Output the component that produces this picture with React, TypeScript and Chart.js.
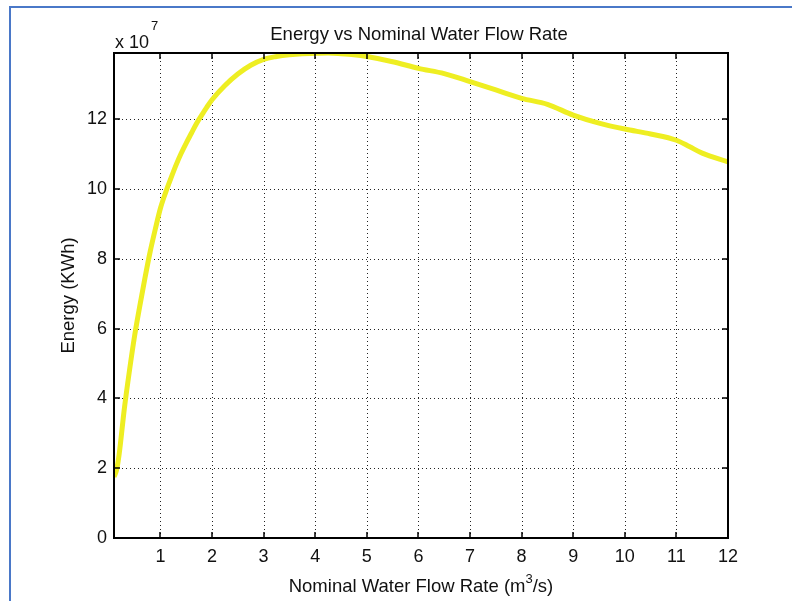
import { useEffect, useRef } from 'react';
import { Chart, registerables } from 'chart.js';

Chart.register(...registerables);

// Nominal water flow rate (m^3/s)
const flowRate = [
  0.1, 0.15, 0.2, 0.3, 0.4, 0.5, 0.6, 0.7, 0.8, 0.9, 1.0, 1.1, 1.2, 1.3, 1.4, 1.5, 1.6, 1.7, 1.8, 1.9,
  2.0, 2.25, 2.5, 2.75, 3.0, 3.25, 3.5, 3.75, 4.0, 4.25, 4.5, 4.75, 5.0, 5.5, 6.0, 6.5,
  7.0, 7.5, 8.0, 8.5, 9.0, 9.5, 10.0, 10.5, 11.0, 11.25, 11.5, 12.0,
];
// Energy (x 10^7 KWh)
const energy = [
  1.75, 1.95, 2.4, 3.7, 4.8, 5.8, 6.65, 7.45, 8.2, 8.85, 9.45, 9.9, 10.3, 10.68, 11.02, 11.32, 11.6, 11.88, 12.12, 12.35,
  12.56, 12.97, 13.3, 13.55, 13.72, 13.8, 13.85, 13.88, 13.89, 13.9, 13.88, 13.85, 13.8, 13.65, 13.46, 13.31,
  13.08, 12.84, 12.6, 12.43, 12.12, 11.89, 11.72, 11.58, 11.4, 11.22, 11.03, 10.78,
];
const xTickValues = [1, 2, 3, 4, 5, 6, 7, 8, 9, 10, 11, 12];
const yTickValues = [0, 2, 4, 6, 8, 10, 12];
const xMin = 0.1;
const xMax = 12;
const yMin = 0;
const yMax = 13.9;

const chartTitle = 'Energy vs Nominal Water Flow Rate';
const yAxisLabel = 'Energy (KWh)';
const xAxisLabelBefore = 'Nominal Water Flow Rate (m';
const xAxisLabelSup = '3';
const xAxisLabelAfter = '/s)';
const exponentBase = 'x 10';
const exponentSup = '7';

const FONT = '"Liberation Sans", Arial, Helvetica, sans-serif';
const TEXT = '#111';
const LABEL_SIZE = 18.5;
const TICK_SIZE = 18;

const matlabAxes = {
  id: 'matlabAxes',
  beforeDatasetsDraw(chart: any) {
    const { ctx, chartArea: a, scales } = chart;
    const x = scales.x;
    const y = scales.y;
    ctx.save();
    ctx.strokeStyle = '#222';
    ctx.lineWidth = 1;
    ctx.setLineDash([1, 3]);
    for (const v of xTickValues) {
      const px = Math.round(x.getPixelForValue(v)) + 0.5;
      ctx.beginPath();
      ctx.moveTo(px, a.top);
      ctx.lineTo(px, a.bottom);
      ctx.stroke();
    }
    for (const v of yTickValues) {
      const py = Math.round(y.getPixelForValue(v)) + 0.5;
      ctx.beginPath();
      ctx.moveTo(a.left, py);
      ctx.lineTo(a.right, py);
      ctx.stroke();
    }
    ctx.restore();
  },
  afterDraw(chart: any) {
    const { ctx, chartArea: a, scales } = chart;
    const x = scales.x;
    const y = scales.y;
    ctx.save();
    // axes box
    ctx.strokeStyle = '#000';
    ctx.lineWidth = 2;
    ctx.setLineDash([]);
    ctx.strokeRect(Math.round(a.left), Math.round(a.top), Math.round(a.right - a.left), Math.round(a.bottom - a.top));
    // inward ticks
    const tl = 6;
    ctx.lineWidth = 1.5;
    for (const v of xTickValues) {
      const px = Math.round(x.getPixelForValue(v));
      ctx.beginPath();
      ctx.moveTo(px, a.bottom);
      ctx.lineTo(px, a.bottom - tl);
      ctx.moveTo(px, a.top);
      ctx.lineTo(px, a.top + tl);
      ctx.stroke();
    }
    for (const v of yTickValues) {
      const py = Math.round(y.getPixelForValue(v));
      ctx.beginPath();
      ctx.moveTo(a.left, py);
      ctx.lineTo(a.left + tl, py);
      ctx.moveTo(a.right, py);
      ctx.lineTo(a.right - tl, py);
      ctx.stroke();
    }
    // title
    ctx.fillStyle = TEXT;
    ctx.font = `${LABEL_SIZE}px ${FONT}`;
    ctx.textAlign = 'center';
    ctx.textBaseline = 'alphabetic';
    ctx.fillText(chartTitle, (a.left + a.right) / 2 - 2, 40);
    // exponent
    ctx.textAlign = 'left';
    ctx.font = `${TICK_SIZE}px ${FONT}`;
    ctx.fillText(exponentBase, a.left + 1, 48);
    const ew = ctx.measureText(exponentBase).width;
    ctx.font = `13px ${FONT}`;
    ctx.fillText(exponentSup, a.left + 1 + ew + 2, 30);
    // x label
    ctx.font = `${LABEL_SIZE}px ${FONT}`;
    const w1 = ctx.measureText(xAxisLabelBefore).width;
    const w3 = ctx.measureText(xAxisLabelAfter).width;
    ctx.font = `13px ${FONT}`;
    const w2 = ctx.measureText(xAxisLabelSup).width;
    const total = w1 + w2 + w3;
    let sx = (a.left + a.right) / 2 - total / 2;
    ctx.font = `${LABEL_SIZE}px ${FONT}`;
    ctx.fillText(xAxisLabelBefore, sx, 592);
    sx += w1;
    ctx.font = `13px ${FONT}`;
    ctx.fillText(xAxisLabelSup, sx, 583);
    sx += w2;
    ctx.font = `${LABEL_SIZE}px ${FONT}`;
    ctx.fillText(xAxisLabelAfter, sx, 592);
    // y label
    ctx.save();
    ctx.translate(74, (a.top + a.bottom) / 2);
    ctx.rotate(-Math.PI / 2);
    ctx.textAlign = 'center';
    ctx.fillText(yAxisLabel, 0, 0);
    ctx.restore();
    // blue frame (partial border of the figure)
    ctx.fillStyle = '#4a78c8';
    ctx.fillRect(9, 6, 792 - 9, 2);
    ctx.fillRect(9, 6, 2, 601 - 6);
    ctx.restore();
  },
};

export default function App() {
  const canvasRef = useRef<HTMLCanvasElement | null>(null);

  useEffect(() => {
    const canvas = canvasRef.current;
    if (!canvas) return;
    const points = flowRate.map((fx, i) => ({ x: fx, y: energy[i] }));
    const chart = new Chart(canvas, {
      type: 'line',
      data: {
        datasets: [
          {
            data: points,
            borderColor: '#eeee22',
            borderWidth: 5,
            pointRadius: 0,
            fill: false,
            cubicInterpolationMode: 'monotone',
          },
        ],
      },
      options: {
        animation: false,
        responsive: false,
        maintainAspectRatio: false,
        devicePixelRatio: 1,
        layout: { padding: { left: 0, right: 64, top: 53, bottom: 0 } },
        plugins: {
          legend: { display: false },
          tooltip: { enabled: false },
          title: { display: false },
        },
        scales: {
          x: {
            type: 'linear',
            min: xMin,
            max: xMax,
            afterBuildTicks: (s: any) => {
              s.ticks = xTickValues.map((v) => ({ value: v }));
            },
            afterFit: (s: any) => {
              s.height = 63;
            },
            grid: { display: false, drawTicks: false },
            border: { display: false },
            ticks: {
              autoSkip: false,
              maxRotation: 0,
              padding: 8,
              color: TEXT,
              font: { family: FONT, size: TICK_SIZE },
              callback: (v: any) => String(v),
            },
          },
          y: {
            type: 'linear',
            min: yMin,
            max: yMax,
            afterBuildTicks: (s: any) => {
              s.ticks = yTickValues.map((v) => ({ value: v }));
            },
            afterFit: (s: any) => {
              s.width = 114;
            },
            grid: { display: false, drawTicks: false },
            border: { display: false },
            ticks: {
              padding: 7,
              color: TEXT,
              font: { family: FONT, size: TICK_SIZE },
              callback: (v: any) => String(v),
            },
          },
        },
      },
      plugins: [matlabAxes],
    } as any);
    return () => chart.destroy();
  }, []);

  return (
    <div style={{ position: 'fixed', left: 0, top: 0, width: 792, height: 601, background: '#fff' }}>
      <canvas ref={canvasRef} width={792} height={601} style={{ display: 'block', width: 792, height: 601 }} />
    </div>
  );
}
